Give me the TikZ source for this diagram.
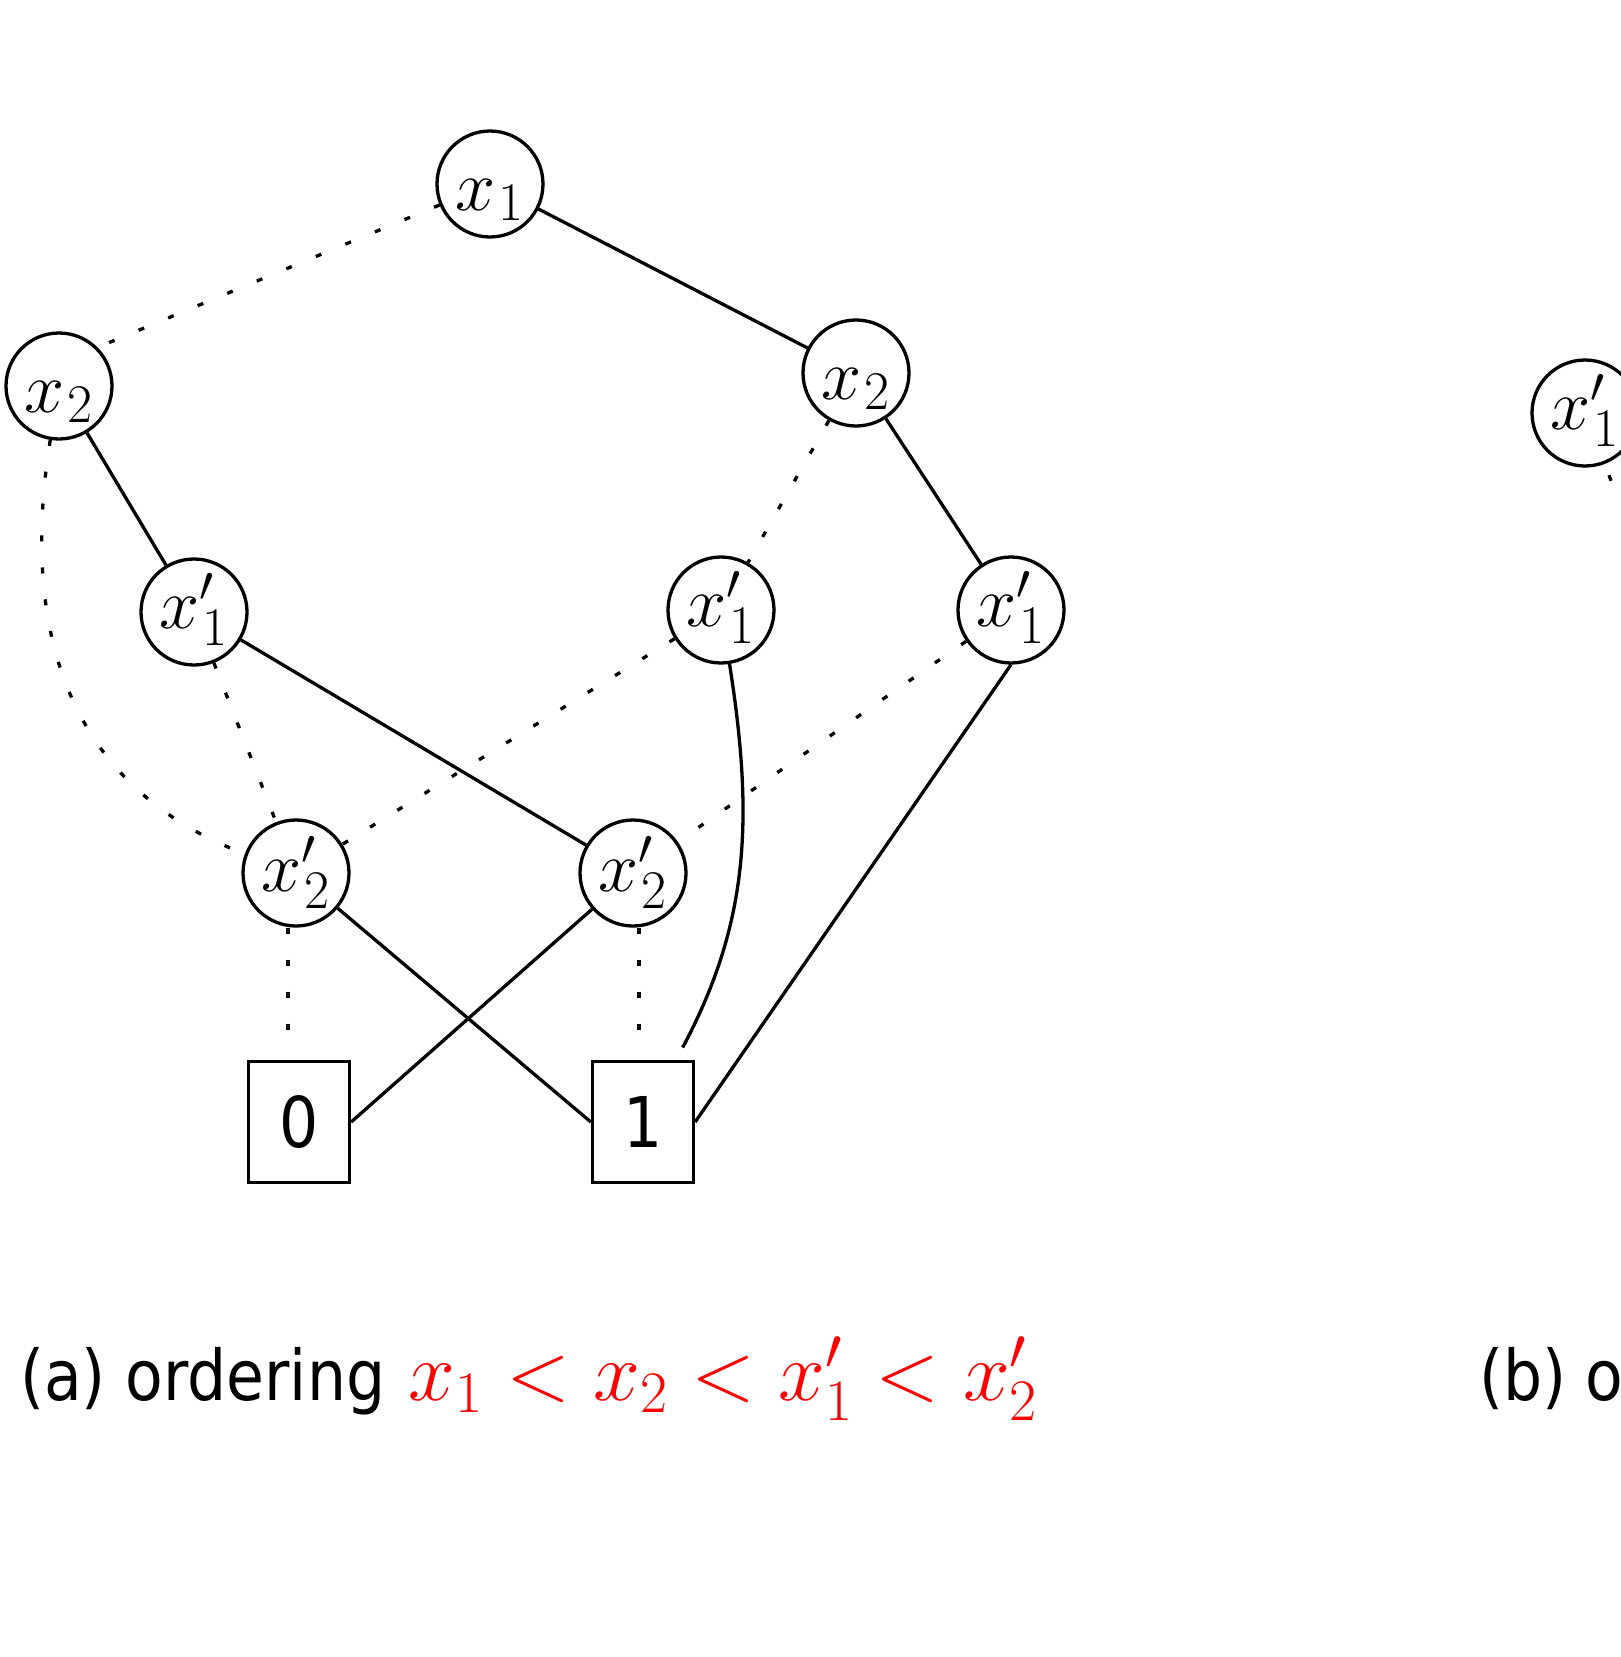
\RequirePackage{fix-cm}
\documentclass[tikz,border=0pt]{standalone}
\usepackage{fontspec}
\usepackage{graphicx}
\newfontfamily\capfont[FakeStretch=0.88]{DejaVu Sans}
% #1 prime or empty, #2 subscript, #3 baseline drop below the centre
\newcommand\vlab[3]{\raisebox{#3}[0pt][0pt]{$x#1_{\mkern1mu\scalebox{1.08}{$\scriptstyle #2$}}$}}
\tikzset{
  bdd/.style={circle,draw,line width=3.3pt,minimum size=106pt,inner sep=0pt,font=\fontsize{72}{86}\selectfont},
  term/.style={rectangle,draw,line width=3.3pt,minimum width=101pt,minimum height=121pt,inner sep=0pt,font=\capfont\fontsize{70}{84}\selectfont},
  hi/.style={line width=3.3pt},
  lo/.style={line width=3.3pt,dash pattern=on 6pt off 26pt},
  capt/.style={anchor=base west,inner sep=0pt,font=\capfont\fontsize{70}{84}\selectfont},
}
\begin{document}
\begin{tikzpicture}[x=1pt,y=-1pt]
\useasboundingbox (0,0) rectangle (1621,1657);
\clip (0,0) rectangle (1621,1657);
\node[bdd] (x1) at (490,184) {\vlab{}{1}{-26pt}};
\node[bdd] (x2L) at (59,386) {\vlab{}{2}{-26pt}};
\node[bdd] (x2R) at (856,373) {\vlab{}{2}{-26pt}};
\node[bdd] (x1pL) at (194,612) {\vlab{'}{1}{-16pt}};
\node[bdd] (x1pM) at (721,610) {\vlab{'}{1}{-16pt}};
\node[bdd] (x1pR) at (1011,610) {\vlab{'}{1}{-16pt}};
\node[bdd] (x2pL) at (296,873) {\vlab{'}{2}{-18pt}};
\node[bdd] (x2pR) at (633,873) {\vlab{'}{2}{-18pt}};
\node[term] (b0) at (299,1122) {0};
\node[term] (b1) at (643,1122) {1};
\node[bdd] (xR) at (1585,413) {\vlab{'}{1}{-16pt}};
\coordinate (xRo) at (1657,600);

\draw[hi] (x1) -- (x2R);
\draw[lo] (x1) -- (x2L.45);
\draw[hi] (x2L) -- (x1pL);
\draw[lo] (x2L) .. controls (18,640) and (75,790) .. (x2pL);
\draw[hi] (x1pL) -- (x2pR);
\draw[lo] (x1pL) -- (x2pL);
\draw[hi] (x2R) -- (x1pR);
\draw[lo] (x2R) -- (x1pM);
\draw[lo] (x1pM) -- (x2pL);
\draw[hi,shorten >=14pt] (x1pM) .. controls (754,819) and (749,923) .. (b1);
\draw[lo] (x1pR) -- (x2pR);
\draw[hi] (x1pR.south) -- (b1.east);
\draw[hi] (x2pL) -- (b1.west);
\draw[hi] (x2pR) -- (b0.east);
\draw[lo,shorten >=20pt] ([xshift=-8pt]x2pL.south) -- ([xshift=-8pt]x2pL.south |- b0.north);
\draw[lo,shorten >=13pt] ([xshift=6pt]x2pR.south) -- ([xshift=6pt]x2pR.south |- b1.north);
\draw[line width=3.3pt,dash pattern=on 6pt off 80pt,shorten <=12pt] (xR) -- (xRo);

\node[capt] (capa) at (20,1400) {(a) ordering\hspace{4pt} \textcolor{red}{\fontsize{84}{98}\selectfont$x_1<x_2<x'_1<x'_2$}};
\node[capt] (capb) at (1479,1400) {(b) o};
\end{tikzpicture}
\end{document}
